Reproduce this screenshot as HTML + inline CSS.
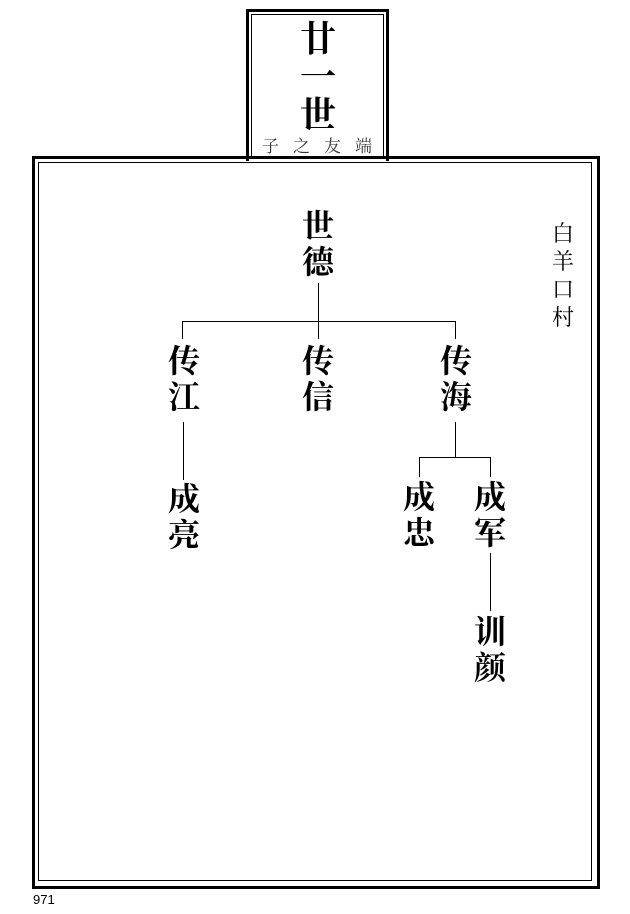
<!DOCTYPE html>
<html><head><meta charset="utf-8"><style>
body{margin:0;width:630px;height:914px;background:#fff;position:relative;overflow:hidden;font-family:"Liberation Serif","Noto Serif CJK SC",serif}
.b{position:absolute;font-weight:bold;font-size:32px;line-height:36px;width:40px;text-align:center;color:#000}
.l{position:absolute;background:#000}
</style></head><body>
<div style="position:absolute;left:246px;top:9px;width:137px;height:149px;border:3px solid #000;border-bottom:none"></div>
<div style="position:absolute;left:251px;top:14px;width:131px;height:143px;border:1px solid #000;border-bottom:none"></div>
<div class="b" style="left:293px;top:20px;font-size:36px;line-height:38px;width:50px">廿<br>一<br>世</div>
<div style="position:absolute;left:262px;top:132px;width:160px;white-space:nowrap;font-size:17px;letter-spacing:14px;color:#333">子之友端</div>
<div style="position:absolute;left:32px;top:156px;width:562px;height:727px;border:3px solid #000"></div>
<div style="position:absolute;left:38px;top:162px;width:552px;height:717px;border:1px solid #000"></div>
<div class="b" style="left:298px;top:208px">世<br>德</div>
<div class="l" style="left:318px;top:283px;width:1px;height:56px"></div>
<div class="l" style="left:182px;top:321px;width:274px;height:1px"></div>
<div class="l" style="left:182px;top:321px;width:1px;height:18px"></div>
<div class="l" style="left:455px;top:321px;width:1px;height:18px"></div>
<div class="b" style="left:164px;top:343px">传<br>江</div>
<div class="b" style="left:298px;top:343px">传<br>信</div>
<div class="b" style="left:436px;top:343px">传<br>海</div>
<div class="l" style="left:183px;top:422px;width:1px;height:58px"></div>
<div class="l" style="left:455px;top:422px;width:1px;height:35px"></div>
<div class="l" style="left:419px;top:457px;width:72px;height:1px"></div>
<div class="l" style="left:419px;top:457px;width:1px;height:20px"></div>
<div class="l" style="left:490px;top:457px;width:1px;height:20px"></div>
<div class="b" style="left:164px;top:481px">成<br>亮</div>
<div class="b" style="left:399px;top:479px">成<br>忠</div>
<div class="b" style="left:470px;top:479px">成<br>军</div>
<div class="l" style="left:490px;top:553px;width:1px;height:58px"></div>
<div class="b" style="left:470px;top:614px">训<br>颜</div>
<div style="position:absolute;left:550px;top:220px;width:26px;font-size:22px;line-height:28px;text-align:center">白<br>羊<br>口<br>村</div>
<div style="position:absolute;left:33px;top:892px;font-family:'Liberation Sans',sans-serif;font-size:13px">971</div>
</body></html>
